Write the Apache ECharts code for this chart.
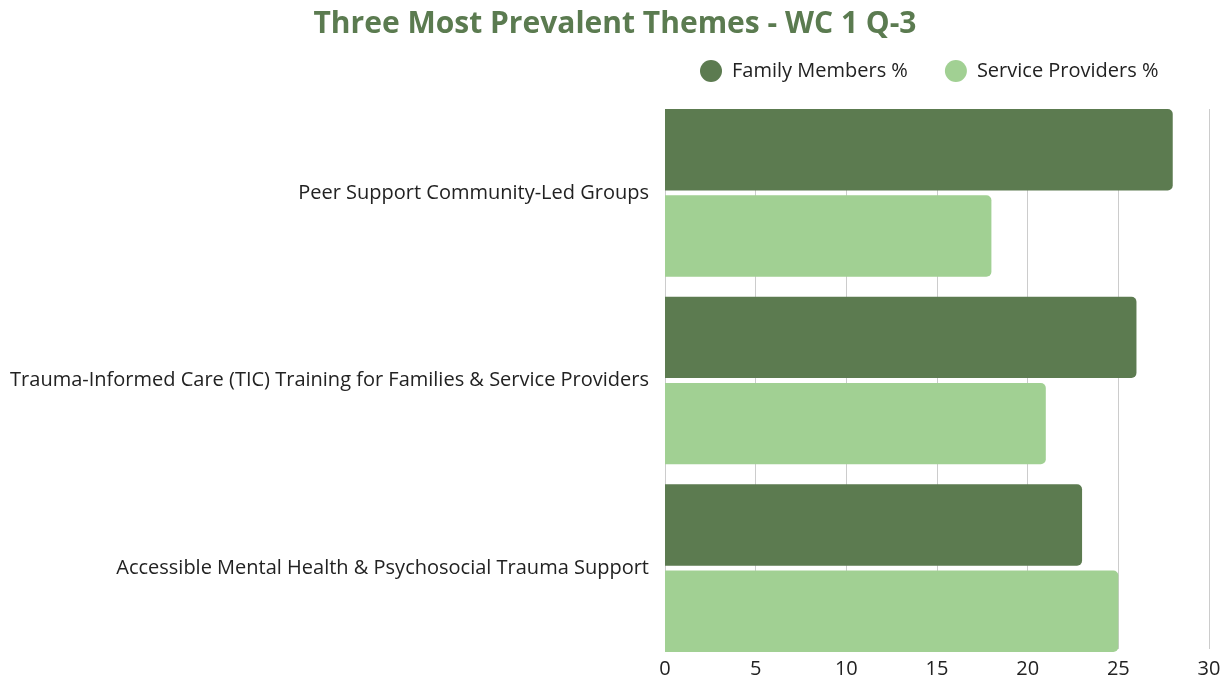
<!DOCTYPE html>
<html>
<head>
<meta charset="UTF-8">
<title>Three Most Prevalent Themes</title>
<style>
  html, body { margin: 0; padding: 0; background: #fff; }
  #chart { width: 1230px; height: 679px; }
</style>
</head>
<body>
<div id="chart"></div>
<script src="https://cdn.jsdelivr.net/npm/echarts@6/dist/echarts.min.js"></script>
<script>
var themes = [
  'Peer Support Community-Led Groups',
  'Trauma-Informed Care (TIC) Training for Families & Service Providers',
  'Accessible Mental Health & Psychosocial Trauma Support'
];
var familyMembers = [28, 26, 23];
var serviceProviders = [18, 21, 25];
var xTicks = [0, 5, 10, 15, 20, 25, 30];

var font = '"Open Sans", Lato, sans-serif';
var chart = echarts.init(document.getElementById('chart'));
chart.setOption({
  animation: false,
  title: {
    text: 'Three Most Prevalent Themes - WC 1 Q-3',
    left: 'center',
    top: 4,
    textStyle: { color: '#5b7b50', fontSize: 30, fontWeight: 'bold', fontFamily: font }
  },
  legend: {
    top: 55,
    left: 695,
    itemGap: 37,
    itemWidth: 22,
    itemHeight: 22,
    icon: 'circle',
    textStyle: { fontSize: 20, color: '#222', fontFamily: font, padding: [0, 0, 0, 5] },
    data: ['Family Members %', 'Service Providers %']
  },
  // grid 0 draws the value axis and its gridlines, grid 1 holds the bars
  grid: [
    { left: 665, right: 21, top: 109, bottom: 27 },
    { left: 665, right: 21, top: 99, bottom: 17 }
  ],
  xAxis: [{
    gridIndex: 0,
    type: 'value',
    min: xTicks[0],
    max: xTicks[xTicks.length - 1],
    interval: 5,
    axisLine: { show: false },
    axisTick: { show: false },
    axisLabel: { fontSize: 20, color: '#222', fontFamily: font, margin: 10 },
    splitLine: { lineStyle: { color: '#cccccc' } }
  }, {
    gridIndex: 1,
    type: 'value',
    min: xTicks[0],
    max: xTicks[xTicks.length - 1],
    show: false
  }],
  yAxis: [{
    gridIndex: 0,
    type: 'category',
    data: themes,
    inverse: true,
    show: false
  }, {
    gridIndex: 1,
    type: 'category',
    data: themes,
    inverse: true,
    axisLine: { show: false },
    axisTick: { show: false },
    axisLabel: { fontSize: 20, color: '#222', fontFamily: font, margin: 16 }
  }],
  series: [{
    name: 'Family Members %',
    type: 'bar',
    xAxisIndex: 1,
    yAxisIndex: 1,
    data: familyMembers,
    itemStyle: { color: '#5c7b50', borderRadius: [0, 5, 5, 0] },
    barGap: '6%',
    barCategoryGap: '10.7%'
  }, {
    name: 'Service Providers %',
    type: 'bar',
    xAxisIndex: 1,
    yAxisIndex: 1,
    data: serviceProviders,
    itemStyle: { color: '#a1d093', borderRadius: [0, 5, 5, 0] },
    barGap: '6%',
    barCategoryGap: '10.7%'
  }]
});
</script>
</body>
</html>
